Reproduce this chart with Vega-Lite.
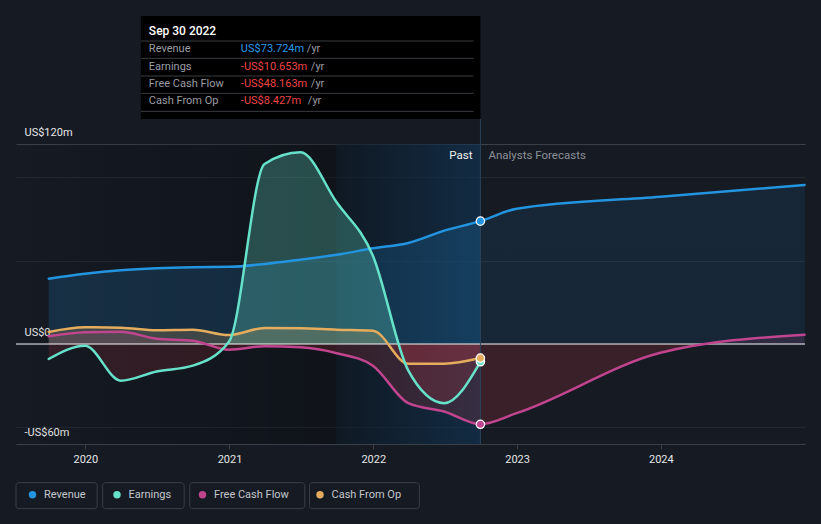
{
  "$schema": "https://vega.github.io/schema/vega-lite/v6.json",
  "width": 789,
  "height": 300,
  "autosize": {"type": "none"},
  "padding": {"left": 16, "top": 144, "right": 16, "bottom": 80},
  "background": "#151a23",
  "config": {"view": {"stroke": null}, "font": "Roboto", "text": {"font": "Roboto"}, "axis": {"titleColor": "transparent"}},
  "datasets": {
    "series": [
      {"date": "2019-09-30", "series": "Revenue", "value": 39.2},
      {"date": "2019-12-31", "series": "Revenue", "value": 42.2},
      {"date": "2020-03-31", "series": "Revenue", "value": 44.3},
      {"date": "2020-06-30", "series": "Revenue", "value": 45.5},
      {"date": "2020-09-30", "series": "Revenue", "value": 46.1},
      {"date": "2020-12-31", "series": "Revenue", "value": 46.3},
      {"date": "2021-03-31", "series": "Revenue", "value": 48.0},
      {"date": "2021-06-30", "series": "Revenue", "value": 50.6},
      {"date": "2021-09-30", "series": "Revenue", "value": 53.5},
      {"date": "2021-12-31", "series": "Revenue", "value": 57.4},
      {"date": "2022-03-31", "series": "Revenue", "value": 60.6},
      {"date": "2022-06-30", "series": "Revenue", "value": 68.0},
      {"date": "2022-09-30", "series": "Revenue", "value": 73.724},
      {"date": "2022-12-31", "series": "Revenue", "value": 81.2},
      {"date": "2023-12-31", "series": "Revenue", "value": 88.4},
      {"date": "2024-12-31", "series": "Revenue", "value": 95.4},
      {"date": "2019-09-30", "series": "Earnings", "value": -9},
      {"date": "2019-12-31", "series": "Earnings", "value": -1},
      {"date": "2020-03-31", "series": "Earnings", "value": -22},
      {"date": "2020-06-30", "series": "Earnings", "value": -16.5},
      {"date": "2020-09-30", "series": "Earnings", "value": -13},
      {"date": "2020-12-31", "series": "Earnings", "value": 1.5},
      {"date": "2021-03-31", "series": "Earnings", "value": 108},
      {"date": "2021-06-30", "series": "Earnings", "value": 115},
      {"date": "2021-09-30", "series": "Earnings", "value": 85},
      {"date": "2021-12-31", "series": "Earnings", "value": 53},
      {"date": "2022-03-31", "series": "Earnings", "value": -16},
      {"date": "2022-06-30", "series": "Earnings", "value": -35.5},
      {"date": "2022-09-30", "series": "Earnings", "value": -10.653},
      {"date": "2019-09-30", "series": "Free Cash Flow", "value": 4.6},
      {"date": "2019-12-31", "series": "Free Cash Flow", "value": 7.0},
      {"date": "2020-03-31", "series": "Free Cash Flow", "value": 7.3},
      {"date": "2020-06-30", "series": "Free Cash Flow", "value": 3.2},
      {"date": "2020-09-30", "series": "Free Cash Flow", "value": 2.0},
      {"date": "2020-12-31", "series": "Free Cash Flow", "value": -3.4},
      {"date": "2021-03-31", "series": "Free Cash Flow", "value": -1.4},
      {"date": "2021-06-30", "series": "Free Cash Flow", "value": -2.0},
      {"date": "2021-09-30", "series": "Free Cash Flow", "value": -5.5},
      {"date": "2021-12-31", "series": "Free Cash Flow", "value": -13},
      {"date": "2022-03-31", "series": "Free Cash Flow", "value": -35.5},
      {"date": "2022-06-30", "series": "Free Cash Flow", "value": -40.5},
      {"date": "2022-09-30", "series": "Free Cash Flow", "value": -48.163},
      {"date": "2022-12-31", "series": "Free Cash Flow", "value": -41.5},
      {"date": "2023-12-31", "series": "Free Cash Flow", "value": -5.3},
      {"date": "2024-12-31", "series": "Free Cash Flow", "value": 5.6},
      {"date": "2019-09-30", "series": "Cash From Op", "value": 7.2},
      {"date": "2019-12-31", "series": "Cash From Op", "value": 10},
      {"date": "2020-03-31", "series": "Cash From Op", "value": 9.8},
      {"date": "2020-06-30", "series": "Cash From Op", "value": 8.2},
      {"date": "2020-09-30", "series": "Cash From Op", "value": 8.5},
      {"date": "2020-12-31", "series": "Cash From Op", "value": 5.4},
      {"date": "2021-03-31", "series": "Cash From Op", "value": 9.6},
      {"date": "2021-06-30", "series": "Cash From Op", "value": 9.4},
      {"date": "2021-09-30", "series": "Cash From Op", "value": 8.6},
      {"date": "2021-12-31", "series": "Cash From Op", "value": 8.0},
      {"date": "2022-03-31", "series": "Cash From Op", "value": -11.8},
      {"date": "2022-06-30", "series": "Cash From Op", "value": -11.8},
      {"date": "2022-09-30", "series": "Cash From Op", "value": -8.427}
    ],
    "latest": [
      {"date": "2022-09-30", "series": "Revenue", "value": 73.724},
      {"date": "2022-09-30", "series": "Earnings", "value": -10.653},
      {"date": "2022-09-30", "series": "Free Cash Flow", "value": -48.163},
      {"date": "2022-09-30", "series": "Cash From Op", "value": -8.427}
    ]
  },
  "layer": [
    {
      "data": {"values": [{}]},
      "mark": {"type": "rect", "fill": {"gradient": "linear", "x1": 0, "y1": 0, "x2": 1, "y2": 0, "stops": [{"offset": 0, "color": "rgba(0,0,0,0)"}, {"offset": 1, "color": "rgba(0,0,0,0.27)"}]}},
      "encoding": {
        "x": {"datum": {"year": 2019, "month": 7, "date": 9, "utc": true}, "type": "temporal"},
        "x2": {"datum": {"year": 2021, "month": 9, "date": 30, "utc": true}},
        "y": {"datum": 120, "type": "quantitative"},
        "y2": {"datum": -60}
      }
    },
    {
      "data": {"values": [{}]},
      "mark": {"type": "rect", "fill": {"gradient": "linear", "x1": 0, "y1": 0, "x2": 1, "y2": 0, "stops": [{"offset": 0, "color": "rgba(11,24,35,0.6)"}, {"offset": 1, "color": "rgba(16,55,88,0.6)"}]}},
      "encoding": {
        "x": {"datum": {"year": 2021, "month": 9, "date": 30, "utc": true}, "type": "temporal"},
        "x2": {"datum": {"year": 2022, "month": 9, "date": 30, "utc": true}},
        "y": {"datum": 120, "type": "quantitative"},
        "y2": {"datum": -60}
      }
    },
    {
      "data": {"name": "series"},
      "transform": [{"filter": {"field": "series", "equal": "Revenue"}}],
      "mark": {"type": "area", "interpolate": "monotone", "fill": {"gradient": "linear", "x1": 0, "y1": 0, "x2": 1, "y2": 0, "stops": [{"offset": 0, "color": "rgba(35,148,223,0.18)"}, {"offset": 0.5725, "color": "rgba(35,148,223,0.18)"}, {"offset": 0.5725, "color": "rgba(35,148,223,0.1)"}, {"offset": 1, "color": "rgba(35,148,223,0.1)"}]}},
      "encoding": {
        "x": {
          "field": "date", "type": "temporal", "title": null,
          "scale": {"type": "utc", "domain": [{"year": 2019, "month": 7, "date": 9, "utc": true}, {"year": 2025, "month": 1, "date": 1, "utc": true}]},
          "axis": {
            "values": [{"year": 2020, "month": 1, "date": 1, "utc": true}, {"year": 2021, "month": 1, "date": 1, "utc": true}, {"year": 2022, "month": 1, "date": 1, "utc": true}, {"year": 2023, "month": 1, "date": 1, "utc": true}, {"year": 2024, "month": 1, "date": 1, "utc": true}],
            "format": "%Y", "grid": false, "domain": true, "domainColor": "#3b4048", "ticks": true, "tickColor": "#3b4048", "tickSize": 5,
            "labelColor": "#e6e6e6", "labelFontSize": 11, "labelFont": "Roboto", "labelPadding": 4
          }
        },
        "y": {
          "field": "value", "type": "quantitative", "title": null,
          "scale": {"domain": [-60, 120]},
          "axis": {
            "values": [-60, -50, 0, 50, 100, 120], "grid": true,
            "gridColor": {"condition": {"test": "datum.value === 120", "value": "#3b4048"}, "value": "#232831"},
            "domain": false, "ticks": false, "tickSize": 0,
            "labelExpr": "datum.value == 120 ? 'US$120m' : datum.value == 0 ? 'US$0' : datum.value == -60 ? '-US$60m' : ''",
            "labelAlign": "left", "labelBaseline": "alphabetic", "labelPadding": -8, "labelOffset": -9,
            "labelColor": "#e6e6e6", "labelFontSize": 11, "labelFont": "Roboto",
            "labelFlush": false, "labelOverlap": false, "labelBound": false
          }
        },
        "y2": {"datum": 0}
      }
    },
    {
      "data": {"name": "series"},
      "transform": [{"filter": {"field": "series", "equal": "Earnings"}}],
      "mark": {"type": "area", "interpolate": "monotone", "fill": {"gradient": "linear", "x1": 0, "y1": 0, "x2": 0, "y2": 1, "stops": [{"offset": 0, "color": "rgba(102,226,203,0.28)"}, {"offset": 0.7641, "color": "rgba(102,226,203,0.28)"}, {"offset": 0.7641, "color": "rgba(200,55,65,0.17)"}, {"offset": 1, "color": "rgba(200,55,65,0.17)"}]}},
      "encoding": {
        "x": {"field": "date", "type": "temporal"},
        "y": {"field": "value", "type": "quantitative"},
        "y2": {"datum": 0}
      }
    },
    {
      "data": {"name": "series"},
      "transform": [{"filter": {"field": "series", "equal": "Free Cash Flow"}}],
      "mark": {"type": "area", "interpolate": "monotone", "fill": {"gradient": "linear", "x1": 0, "y1": 0, "x2": 0, "y2": 1, "stops": [{"offset": 0, "color": "rgba(193,69,142,0.14)"}, {"offset": 0.1316, "color": "rgba(193,69,142,0.14)"}, {"offset": 0.1316, "color": "rgba(200,55,65,0.2)"}, {"offset": 1, "color": "rgba(200,55,65,0.2)"}]}},
      "encoding": {
        "x": {"field": "date", "type": "temporal"},
        "y": {"field": "value", "type": "quantitative"},
        "y2": {"datum": 0}
      }
    },
    {
      "data": {"name": "series"},
      "transform": [{"filter": {"field": "series", "equal": "Cash From Op"}}],
      "mark": {"type": "area", "interpolate": "monotone", "fill": {"gradient": "linear", "x1": 0, "y1": 0, "x2": 0, "y2": 1, "stops": [{"offset": 0, "color": "rgba(228,172,92,0.2)"}, {"offset": 0.4587, "color": "rgba(228,172,92,0.2)"}, {"offset": 0.4587, "color": "rgba(200,55,65,0.18)"}, {"offset": 1, "color": "rgba(200,55,65,0.18)"}]}},
      "encoding": {
        "x": {"field": "date", "type": "temporal"},
        "y": {"field": "value", "type": "quantitative"},
        "y2": {"datum": 0}
      }
    },
    {
      "data": {"values": [{}]},
      "mark": {"type": "rule", "color": "#f2f2f2", "strokeWidth": 1},
      "encoding": {"y": {"datum": 0, "type": "quantitative"}}
    },
    {
      "data": {"name": "series"},
      "transform": [{"filter": {"field": "series", "equal": "Revenue"}}],
      "mark": {"type": "line", "interpolate": "monotone", "strokeWidth": 2.5, "stroke": "#2394df", "strokeCap": "round"},
      "encoding": {
        "x": {"field": "date", "type": "temporal"},
        "y": {"field": "value", "type": "quantitative"}
      }
    },
    {
      "data": {"name": "series"},
      "transform": [{"filter": {"field": "series", "equal": "Free Cash Flow"}}],
      "mark": {"type": "line", "interpolate": "monotone", "strokeWidth": 2.5, "stroke": "#c1458e", "strokeCap": "round"},
      "encoding": {
        "x": {"field": "date", "type": "temporal"},
        "y": {"field": "value", "type": "quantitative"}
      }
    },
    {
      "data": {"name": "series"},
      "transform": [{"filter": {"field": "series", "equal": "Cash From Op"}}],
      "mark": {"type": "line", "interpolate": "monotone", "strokeWidth": 2.5, "stroke": "#e4ac5c", "strokeCap": "round"},
      "encoding": {
        "x": {"field": "date", "type": "temporal"},
        "y": {"field": "value", "type": "quantitative"}
      }
    },
    {
      "data": {"name": "series"},
      "transform": [{"filter": {"field": "series", "equal": "Earnings"}}],
      "mark": {"type": "line", "interpolate": "monotone", "strokeWidth": 2.5, "stroke": "#66e2cb", "strokeCap": "round"},
      "encoding": {
        "x": {"field": "date", "type": "temporal"},
        "y": {"field": "value", "type": "quantitative"}
      }
    },
    {
      "data": {"values": [{}]},
      "mark": {"type": "rule", "color": "#2c4257", "strokeWidth": 1},
      "encoding": {
        "x": {"datum": {"year": 2022, "month": 9, "date": 30, "utc": true}, "type": "temporal"},
        "y": {"datum": -60, "type": "quantitative"},
        "y2": {"datum": 135}
      }
    },
    {
      "data": {"name": "latest"},
      "mark": {"type": "point", "filled": true, "size": 70, "stroke": "#ffffff", "strokeWidth": 1.2, "opacity": 1},
      "encoding": {
        "x": {"field": "date", "type": "temporal"},
        "y": {"field": "value", "type": "quantitative"},
        "fill": {
          "field": "series", "type": "nominal",
          "scale": {"domain": ["Revenue", "Earnings", "Free Cash Flow", "Cash From Op"], "range": ["#2394df", "#66e2cb", "#c1458e", "#e4ac5c"]},
          "legend": {
            "title": null, "orient": "none", "legendX": 11, "legendY": 345, "direction": "horizontal",
            "symbolType": "circle", "symbolSize": 55, "symbolStrokeWidth": 0, "symbolOpacity": 1,
            "labelFontSize": 11, "labelFont": "Roboto", "labelColor": "#c5c8cd", "labelOffset": 6,
            "columnPadding": 25.5, "padding": 0
          }
        }
      }
    },
    {
      "data": {"values": [{}]},
      "mark": {"type": "text", "align": "right", "baseline": "middle", "dx": -8, "fontSize": 11.5, "color": "#f0f0f0"},
      "encoding": {
        "x": {"datum": {"year": 2022, "month": 9, "date": 30, "utc": true}, "type": "temporal"},
        "y": {"datum": 112.8, "type": "quantitative"},
        "text": {"value": "Past"}
      }
    },
    {
      "data": {"values": [{}]},
      "mark": {"type": "text", "align": "left", "baseline": "middle", "dx": 8, "fontSize": 11.5, "color": "#8d9198"},
      "encoding": {
        "x": {"datum": {"year": 2022, "month": 9, "date": 30, "utc": true}, "type": "temporal"},
        "y": {"datum": 112.8, "type": "quantitative"},
        "text": {"value": "Analysts Forecasts"}
      }
    },
    {
      "data": {"values": [{}]},
      "mark": {"type": "rect", "color": "#000000"},
      "encoding": {
        "x": {"datum": {"year": 2020, "month": 5, "date": 21, "utc": true}, "type": "temporal"},
        "x2": {"datum": {"year": 2022, "month": 9, "date": 30, "utc": true}},
        "y": {"datum": 196.8, "type": "quantitative"},
        "y2": {"datum": 135}
      }
    },
    {
      "data": {"values": [{}]},
      "mark": {"type": "rule", "color": "#3a3c40", "strokeWidth": 1},
      "encoding": {
        "x": {"datum": {"year": 2020, "month": 5, "date": 21, "utc": true}, "type": "temporal"},
        "x2": {"datum": {"year": 2022, "month": 9, "date": 13, "utc": true}},
        "y": {"datum": 181.8, "type": "quantitative"}
      }
    },
    {
      "data": {"values": [{}]},
      "mark": {"type": "rule", "color": "#3a3c40", "strokeWidth": 1},
      "encoding": {
        "x": {"datum": {"year": 2020, "month": 5, "date": 21, "utc": true}, "type": "temporal"},
        "x2": {"datum": {"year": 2022, "month": 9, "date": 13, "utc": true}},
        "y": {"datum": 171.4, "type": "quantitative"}
      }
    },
    {
      "data": {"values": [{}]},
      "mark": {"type": "rule", "color": "#3a3c40", "strokeWidth": 1},
      "encoding": {
        "x": {"datum": {"year": 2020, "month": 5, "date": 21, "utc": true}, "type": "temporal"},
        "x2": {"datum": {"year": 2022, "month": 9, "date": 13, "utc": true}},
        "y": {"datum": 160.8, "type": "quantitative"}
      }
    },
    {
      "data": {"values": [{}]},
      "mark": {"type": "rule", "color": "#3a3c40", "strokeWidth": 1},
      "encoding": {
        "x": {"datum": {"year": 2020, "month": 5, "date": 21, "utc": true}, "type": "temporal"},
        "x2": {"datum": {"year": 2022, "month": 9, "date": 13, "utc": true}},
        "y": {"datum": 150.4, "type": "quantitative"}
      }
    },
    {
      "data": {"values": [{}]},
      "mark": {"type": "rule", "color": "#3a3c40", "strokeWidth": 1},
      "encoding": {
        "x": {"datum": {"year": 2020, "month": 5, "date": 21, "utc": true}, "type": "temporal"},
        "x2": {"datum": {"year": 2022, "month": 9, "date": 13, "utc": true}},
        "y": {"datum": 139.6, "type": "quantitative"}
      }
    },
    {
      "data": {"values": [{}]},
      "mark": {"type": "text", "align": "left", "baseline": "middle", "dx": 8, "fontSize": 12, "fontWeight": 500, "color": "#ffffff"},
      "encoding": {
        "x": {"datum": {"year": 2020, "month": 5, "date": 21, "utc": true}, "type": "temporal"},
        "y": {"datum": 188.0, "type": "quantitative"},
        "text": {"value": "Sep 30 2022"}
      }
    },
    {
      "data": {"values": [{}]},
      "mark": {"type": "text", "align": "left", "baseline": "middle", "dx": 8, "fontSize": 11, "color": "#9a9da3"},
      "encoding": {
        "x": {"datum": {"year": 2020, "month": 5, "date": 21, "utc": true}, "type": "temporal"},
        "y": {"datum": 176.8, "type": "quantitative"},
        "text": {"value": "Revenue"}
      }
    },
    {
      "data": {"values": [{}]},
      "mark": {"type": "text", "align": "left", "baseline": "middle", "dx": 8, "fontSize": 11, "color": "#9a9da3"},
      "encoding": {
        "x": {"datum": {"year": 2020, "month": 5, "date": 21, "utc": true}, "type": "temporal"},
        "y": {"datum": 166.4, "type": "quantitative"},
        "text": {"value": "Earnings"}
      }
    },
    {
      "data": {"values": [{}]},
      "mark": {"type": "text", "align": "left", "baseline": "middle", "dx": 8, "fontSize": 11, "color": "#9a9da3"},
      "encoding": {
        "x": {"datum": {"year": 2020, "month": 5, "date": 21, "utc": true}, "type": "temporal"},
        "y": {"datum": 155.8, "type": "quantitative"},
        "text": {"value": "Free Cash Flow"}
      }
    },
    {
      "data": {"values": [{}]},
      "mark": {"type": "text", "align": "left", "baseline": "middle", "dx": 8, "fontSize": 11, "color": "#9a9da3"},
      "encoding": {
        "x": {"datum": {"year": 2020, "month": 5, "date": 21, "utc": true}, "type": "temporal"},
        "y": {"datum": 145.6, "type": "quantitative"},
        "text": {"value": "Cash From Op"}
      }
    },
    {
      "data": {"values": [{}]},
      "mark": {"type": "text", "align": "left", "baseline": "middle", "dx": 100, "fontSize": 11, "color": "#2a9be6"},
      "encoding": {
        "x": {"datum": {"year": 2020, "month": 5, "date": 21, "utc": true}, "type": "temporal"},
        "y": {"datum": 176.8, "type": "quantitative"},
        "text": {"value": "US$73.724m"}
      }
    },
    {
      "data": {"values": [{}]},
      "mark": {"type": "text", "align": "left", "baseline": "middle", "dx": 100, "fontSize": 11, "color": "#ee4444"},
      "encoding": {
        "x": {"datum": {"year": 2020, "month": 5, "date": 21, "utc": true}, "type": "temporal"},
        "y": {"datum": 166.4, "type": "quantitative"},
        "text": {"value": "-US$10.653m"}
      }
    },
    {
      "data": {"values": [{}]},
      "mark": {"type": "text", "align": "left", "baseline": "middle", "dx": 100, "fontSize": 11, "color": "#ee4444"},
      "encoding": {
        "x": {"datum": {"year": 2020, "month": 5, "date": 21, "utc": true}, "type": "temporal"},
        "y": {"datum": 155.8, "type": "quantitative"},
        "text": {"value": "-US$48.163m"}
      }
    },
    {
      "data": {"values": [{}]},
      "mark": {"type": "text", "align": "left", "baseline": "middle", "dx": 100, "fontSize": 11, "color": "#ee4444"},
      "encoding": {
        "x": {"datum": {"year": 2020, "month": 5, "date": 21, "utc": true}, "type": "temporal"},
        "y": {"datum": 145.6, "type": "quantitative"},
        "text": {"value": "-US$8.427m"}
      }
    },
    {
      "data": {"values": [{}]},
      "mark": {"type": "text", "align": "left", "baseline": "middle", "dx": 166, "fontSize": 11, "color": "#9a9da3"},
      "encoding": {
        "x": {"datum": {"year": 2020, "month": 5, "date": 21, "utc": true}, "type": "temporal"},
        "y": {"datum": 176.8, "type": "quantitative"},
        "text": {"value": "/yr"}
      }
    },
    {
      "data": {"values": [{}]},
      "mark": {"type": "text", "align": "left", "baseline": "middle", "dx": 170, "fontSize": 11, "color": "#9a9da3"},
      "encoding": {
        "x": {"datum": {"year": 2020, "month": 5, "date": 21, "utc": true}, "type": "temporal"},
        "y": {"datum": 166.4, "type": "quantitative"},
        "text": {"value": "/yr"}
      }
    },
    {
      "data": {"values": [{}]},
      "mark": {"type": "text", "align": "left", "baseline": "middle", "dx": 170, "fontSize": 11, "color": "#9a9da3"},
      "encoding": {
        "x": {"datum": {"year": 2020, "month": 5, "date": 21, "utc": true}, "type": "temporal"},
        "y": {"datum": 155.8, "type": "quantitative"},
        "text": {"value": "/yr"}
      }
    },
    {
      "data": {"values": [{}]},
      "mark": {"type": "text", "align": "left", "baseline": "middle", "dx": 167, "fontSize": 11, "color": "#9a9da3"},
      "encoding": {
        "x": {"datum": {"year": 2020, "month": 5, "date": 21, "utc": true}, "type": "temporal"},
        "y": {"datum": 145.6, "type": "quantitative"},
        "text": {"value": "/yr"}
      }
    },
    {
      "data": {"values": [{}]},
      "mark": {"type": "rect", "filled": false, "stroke": "#3a3f47", "strokeWidth": 1, "cornerRadius": 3},
      "encoding": {
        "x": {"datum": {"year": 2019, "month": 7, "date": 9, "utc": true}, "type": "temporal"},
        "x2": {"datum": {"year": 2020, "month": 1, "date": 31, "utc": true}},
        "y": {"datum": -83.2, "type": "quantitative"},
        "y2": {"datum": -98.8}
      }
    },
    {
      "data": {"values": [{}]},
      "mark": {"type": "rect", "filled": false, "stroke": "#3a3f47", "strokeWidth": 1, "cornerRadius": 3},
      "encoding": {
        "x": {"datum": {"year": 2020, "month": 2, "date": 14, "utc": true}, "type": "temporal"},
        "x2": {"datum": {"year": 2020, "month": 9, "date": 8, "utc": true}},
        "y": {"datum": -83.2, "type": "quantitative"},
        "y2": {"datum": -98.8}
      }
    },
    {
      "data": {"values": [{}]},
      "mark": {"type": "rect", "filled": false, "stroke": "#3a3f47", "strokeWidth": 1, "cornerRadius": 3},
      "encoding": {
        "x": {"datum": {"year": 2020, "month": 9, "date": 22, "utc": true}, "type": "temporal"},
        "x2": {"datum": {"year": 2021, "month": 7, "date": 11, "utc": true}},
        "y": {"datum": -83.2, "type": "quantitative"},
        "y2": {"datum": -98.8}
      }
    },
    {
      "data": {"values": [{}]},
      "mark": {"type": "rect", "filled": false, "stroke": "#3a3f47", "strokeWidth": 1, "cornerRadius": 3},
      "encoding": {
        "x": {"datum": {"year": 2021, "month": 7, "date": 23, "utc": true}, "type": "temporal"},
        "x2": {"datum": {"year": 2022, "month": 4, "date": 28, "utc": true}},
        "y": {"datum": -83.2, "type": "quantitative"},
        "y2": {"datum": -98.8}
      }
    }
  ]
}
